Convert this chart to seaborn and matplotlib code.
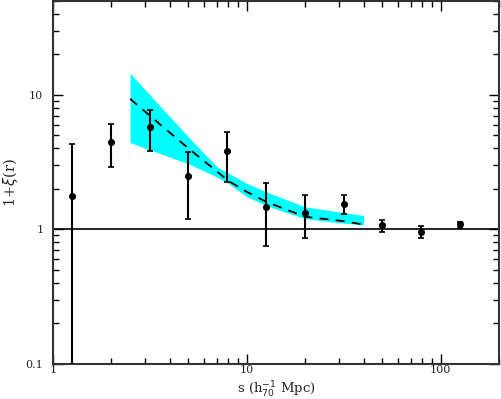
import numpy as np
import pandas as pd
import matplotlib
matplotlib.use("Agg")
import matplotlib.pyplot as plt
import seaborn as sns
from matplotlib.ticker import LogLocator, FixedLocator, FixedFormatter, NullFormatter

# Observed redshift-space correlation (1 + xi) with error bounds
s_obs = [1.26, 2.0, 3.16, 5.0, 7.94, 12.6, 20.0, 31.6, 50.0, 79.4, 126.0]
xi_obs = [1.77, 4.5, 5.77, 2.49, 3.8, 1.47, 1.32, 1.55, 1.07, 0.95, 1.09]
xi_hi = [4.32, 6.08, 7.77, 3.77, 5.27, 2.2, 1.79, 1.79, 1.18, 1.05, 1.14]
xi_lo = [0.05, 2.9, 3.8, 1.2, 2.26, 0.746, 0.86, 1.31, 0.95, 0.86, 1.03]

# Model curve and its uncertainty band
s_mod = [2.5, 3.16, 5.0, 7.0, 8.0, 10.0, 12.6, 20.0, 31.6, 40.0]
xi_mod = [9.36, 7.0, 4.0, 2.7, 2.3, 1.9, 1.6, 1.24, 1.15, 1.085]
band_hi = [14.5, 10.0, 4.87, 2.92, 2.62, 2.2, 1.9, 1.47, 1.33, 1.27]
band_lo = [4.42, 3.9, 3.07, 2.45, 2.2, 1.75, 1.5, 1.2, 1.11, 1.08]

obs = pd.DataFrame({"s": s_obs, "xi": xi_obs, "lo": xi_lo, "hi": xi_hi})
mod = pd.DataFrame({"s": s_mod, "xi": xi_mod, "lo": band_lo, "hi": band_hi})

sns.set_style("ticks")
plt.rcParams["font.family"] = ["DejaVu Serif"]

fig = plt.figure(figsize=(5.01, 3.99), dpi=100)
ax = fig.add_axes([0.1058, 0.0885, 0.8902, 0.909])

ax.fill_between(mod["s"], mod["lo"], mod["hi"], color="#00ffff", linewidth=0, zorder=1)
sns.lineplot(data=mod, x="s", y="xi", ax=ax, color="black", linestyle=(0, (5, 4)),
             linewidth=1.3, zorder=2)
ax.axhline(1, color="black", linewidth=1.2, zorder=2)

yerr = [obs["xi"] - obs["lo"], obs["hi"] - obs["xi"]]
ax.errorbar(obs["s"], obs["xi"], yerr=yerr, fmt="none", ecolor="black",
            elinewidth=1.5, capsize=2.3, capthick=1.2, zorder=3)
sns.scatterplot(data=obs, x="s", y="xi", ax=ax, color="black", s=26,
                edgecolor="black", linewidth=0, zorder=4)

ax.set_xscale("log")
ax.set_yscale("log")
ax.set_xlim(1, 200)
ax.set_ylim(0.1, 50)

ax.xaxis.set_major_locator(FixedLocator([1, 10, 100]))
ax.xaxis.set_major_formatter(FixedFormatter(["1", "10", "100"]))
ax.yaxis.set_major_locator(FixedLocator([0.1, 1, 10]))
ax.yaxis.set_major_formatter(FixedFormatter(["0.1", "1", "10"]))
ax.xaxis.set_minor_locator(LogLocator(base=10, subs=np.arange(2, 10)))
ax.yaxis.set_minor_locator(LogLocator(base=10, subs=np.arange(2, 10)))
ax.xaxis.set_minor_formatter(NullFormatter())
ax.yaxis.set_minor_formatter(NullFormatter())

ax.tick_params(which="both", direction="in", top=True, right=True, labelsize=8,
               color="black", width=1)
ax.tick_params(which="major", length=7)
ax.tick_params(which="minor", length=4)
ax.tick_params(axis="x", which="major", pad=1)
ax.tick_params(axis="y", which="major", pad=7)
for sp in ax.spines.values():
    sp.set_linewidth(1.5)
    sp.set_color("#333333")

ax.set_xlabel(r"s (h$_{70}^{-1}$ Mpc)", fontsize=9.5)
ax.set_ylabel(r"1+$\xi$(r)", fontsize=10.5)
ax.xaxis.set_label_coords(0.5, -0.082)
ax.xaxis.label.set_va("baseline")
ax.yaxis.set_label_coords(-0.095, 0.5)
ax.yaxis.label.set_va("center")

fig.savefig("out.png", dpi=100)
